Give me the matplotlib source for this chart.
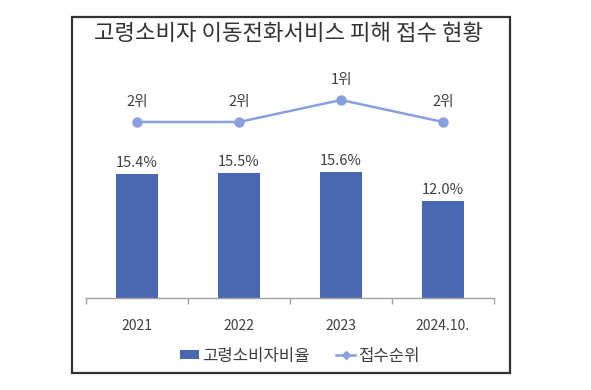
import matplotlib
matplotlib.use("Agg")
import matplotlib.pyplot as plt
from matplotlib.patches import Rectangle, Patch
from matplotlib.lines import Line2D
import numpy as np

plt.rcParams['font.family'] = ['Noto Sans CJK KR', 'DejaVu Sans']

categories = ["2021", "2022", "2023", "2024.10."]
share_values = [15.4, 15.5, 15.6, 12.0]
share_labels = ["15.4%", "15.5%", "15.6%", "12.0%"]
rank_values = [2, 2, 1, 2]
rank_labels = ["2위", "2위", "1위", "2위"]
title = "고령소비자 이동전화서비스 피해 접수 현황"
legend_labels = ["고령소비자비율", "접수순위"]

BAR_COLOR = "#4A67B1"
LINE_COLOR = "#8C9FDD"
TEXT_COLOR = "#404040"

W, H = 591, 390
fig = plt.figure(figsize=(W / 100, H / 100), dpi=100)
fig.patch.set_facecolor("white")

# outer frame
fig.add_artist(Rectangle((72 / W, 1 - 373 / H), (510 - 72) / W, (373 - 17) / H,
                         transform=fig.transFigure, fill=False,
                         edgecolor="#333333", linewidth=1.6))

ax_left, ax_right = 86, 494
ax_bottom, ax_top = 298, 60
ax = fig.add_axes([ax_left / W, 1 - ax_bottom / H, (ax_right - ax_left) / W,
                   (ax_bottom - ax_top) / H])
x = np.arange(len(categories))
bars = ax.bar(x, share_values, width=0.41, color=BAR_COLOR, zorder=2)
ax.set_xlim(-0.5, len(categories) - 0.5)
ax.set_ylim(0, 29.5)
for rect, lab in zip(bars, share_labels):
    ax.annotate(lab, (rect.get_x() + rect.get_width() / 2, rect.get_height()),
                xytext=(0, 3), textcoords="offset points", ha="center", va="bottom",
                fontsize=10.5, color=TEXT_COLOR)

for s in ["top", "left", "right"]:
    ax.spines[s].set_visible(False)
ax.spines["bottom"].set_color("#A0A0A0")
ax.spines["bottom"].set_linewidth(1.0)
ax.set_yticks([])
ax.set_xticks(x)
ax.set_xticklabels(categories, fontsize=10, color=TEXT_COLOR)
ax.tick_params(axis="x", which="major", length=0, pad=15)
ax.set_xticks(np.arange(-0.5, len(categories), 1.0), minor=True)
ax.tick_params(axis="x", which="minor", length=4, color="#A0A0A0", width=1.0)
ax.patch.set_alpha(0)

ax2 = ax.twinx()
ax2.plot(x, rank_values, color=LINE_COLOR, linewidth=1.8, marker="o",
         markersize=6.5, zorder=3)
ax2.set_ylim(10, -0.818)
ax2.set_yticks([])
for s in ["top", "left", "right", "bottom"]:
    ax2.spines[s].set_visible(False)
for xi, r, lab in zip(x, rank_values, rank_labels):
    ax2.annotate(lab, (xi, r), xytext=(0, 9), textcoords="offset points",
                 ha="center", va="bottom", fontsize=10.5, color=TEXT_COLOR)

fig.text(289 / W, 1 - 33 / H, title, ha="center", va="center", fontsize=16,
         color="#333333")

handles = [Patch(facecolor=BAR_COLOR, edgecolor="none"),
           Line2D([0], [0], color=LINE_COLOR, linewidth=1.8, marker="D",
                  markersize=4)]
fig.legend(handles, legend_labels, loc="center", bbox_to_anchor=(300 / W, 1 - 356 / H),
           ncol=2, frameon=False, fontsize=12, handlelength=1.1,
           handleheight=0.5, handletextpad=0.2, columnspacing=1.6,
           labelcolor=TEXT_COLOR)

fig.savefig("out.png", dpi=100, facecolor="white")
